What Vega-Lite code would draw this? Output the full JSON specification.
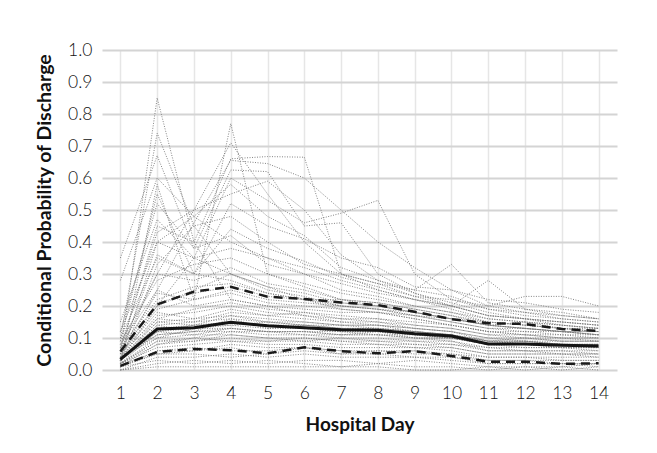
{
"$schema": "https://vega.github.io/schema/vega-lite/v6.json",
"width": 515, "height": 320,
"autosize": {"type": "none"},
"padding": {"left": 102, "top": 50, "right": 40, "bottom": 83},
"background": "white",
"config": {"view": {"stroke": null}, "font": "Lato"},
"datasets": {
"summary": [
{"s":"median","d":1,"p":0.033},{"s":"median","d":2,"p":0.128},{"s":"median","d":3,"p":0.132},{"s":"median","d":4,"p":0.149},{"s":"median","d":5,"p":0.138},{"s":"median","d":6,"p":0.132},{"s":"median","d":7,"p":0.126},{"s":"median","d":8,"p":0.124},{"s":"median","d":9,"p":0.113},{"s":"median","d":10,"p":0.106},{"s":"median","d":11,"p":0.081},{"s":"median","d":12,"p":0.081},{"s":"median","d":13,"p":0.077},{"s":"median","d":14,"p":0.075},
{"s":"p90","d":1,"p":0.058},{"s":"p90","d":2,"p":0.205},{"s":"p90","d":3,"p":0.245},{"s":"p90","d":4,"p":0.26},{"s":"p90","d":5,"p":0.229},{"s":"p90","d":6,"p":0.222},{"s":"p90","d":7,"p":0.211},{"s":"p90","d":8,"p":0.203},{"s":"p90","d":9,"p":0.182},{"s":"p90","d":10,"p":0.159},{"s":"p90","d":11,"p":0.146},{"s":"p90","d":12,"p":0.144},{"s":"p90","d":13,"p":0.128},{"s":"p90","d":14,"p":0.122},
{"s":"p10","d":1,"p":0.013},{"s":"p10","d":2,"p":0.056},{"s":"p10","d":3,"p":0.066},{"s":"p10","d":4,"p":0.062},{"s":"p10","d":5,"p":0.052},{"s":"p10","d":6,"p":0.071},{"s":"p10","d":7,"p":0.059},{"s":"p10","d":8,"p":0.052},{"s":"p10","d":9,"p":0.059},{"s":"p10","d":10,"p":0.044},{"s":"p10","d":11,"p":0.026},{"s":"p10","d":12,"p":0.026},{"s":"p10","d":13,"p":0.019},{"s":"p10","d":14,"p":0.021}
],
"hosp": [
{"h":1,"d":1,"p":0.02},{"h":1,"d":2,"p":0.05},{"h":1,"d":3,"p":0.06},{"h":1,"d":4,"p":0.07},{"h":1,"d":5,"p":0.05},{"h":1,"d":6,"p":0.07},{"h":1,"d":7,"p":0.06},{"h":1,"d":8,"p":0.05},{"h":1,"d":9,"p":0.06},{"h":1,"d":10,"p":0.04},{"h":1,"d":11,"p":0.03},{"h":1,"d":12,"p":0.03},{"h":1,"d":13,"p":0.02},{"h":1,"d":14,"p":0.02},
{"h":2,"d":1,"p":0.03},{"h":2,"d":2,"p":0.13},{"h":2,"d":3,"p":0.13},{"h":2,"d":4,"p":0.15},{"h":2,"d":5,"p":0.14},{"h":2,"d":6,"p":0.13},{"h":2,"d":7,"p":0.12},{"h":2,"d":8,"p":0.12},{"h":2,"d":9,"p":0.11},{"h":2,"d":10,"p":0.10},{"h":2,"d":11,"p":0.08},{"h":2,"d":12,"p":0.08},{"h":2,"d":13,"p":0.08},{"h":2,"d":14,"p":0.07},
{"h":3,"d":1,"p":0.05},{"h":3,"d":2,"p":0.21},{"h":3,"d":3,"p":0.24},{"h":3,"d":4,"p":0.26},{"h":3,"d":5,"p":0.23},{"h":3,"d":6,"p":0.22},{"h":3,"d":7,"p":0.21},{"h":3,"d":8,"p":0.20},{"h":3,"d":9,"p":0.18},{"h":3,"d":10,"p":0.16},{"h":3,"d":11,"p":0.15},{"h":3,"d":12,"p":0.14},{"h":3,"d":13,"p":0.13},{"h":3,"d":14,"p":0.12},
{"h":4,"d":1,"p":0.01},{"h":4,"d":2,"p":0.08},{"h":4,"d":3,"p":0.09},{"h":4,"d":4,"p":0.10},{"h":4,"d":5,"p":0.09},{"h":4,"d":6,"p":0.10},{"h":4,"d":7,"p":0.09},{"h":4,"d":8,"p":0.08},{"h":4,"d":9,"p":0.08},{"h":4,"d":10,"p":0.07},{"h":4,"d":11,"p":0.05},{"h":4,"d":12,"p":0.05},{"h":4,"d":13,"p":0.05},{"h":4,"d":14,"p":0.04},
{"h":5,"d":1,"p":0.04},{"h":5,"d":2,"p":0.17},{"h":5,"d":3,"p":0.18},{"h":5,"d":4,"p":0.20},{"h":5,"d":5,"p":0.18},{"h":5,"d":6,"p":0.17},{"h":5,"d":7,"p":0.16},{"h":5,"d":8,"p":0.16},{"h":5,"d":9,"p":0.14},{"h":5,"d":10,"p":0.13},{"h":5,"d":11,"p":0.11},{"h":5,"d":12,"p":0.11},{"h":5,"d":13,"p":0.10},{"h":5,"d":14,"p":0.10},
{"h":6,"d":1,"p":0.00},{"h":6,"d":2,"p":0.02},{"h":6,"d":3,"p":0.03},{"h":6,"d":4,"p":0.02},{"h":6,"d":5,"p":0.03},{"h":6,"d":6,"p":0.02},{"h":6,"d":7,"p":0.01},{"h":6,"d":8,"p":0.02},{"h":6,"d":9,"p":0.01},{"h":6,"d":10,"p":0.01},{"h":6,"d":11,"p":0.00},{"h":6,"d":12,"p":0.01},{"h":6,"d":13,"p":0.00},{"h":6,"d":14,"p":0.01},
{"h":7,"d":1,"p":0.06},{"h":7,"d":2,"p":0.30},{"h":7,"d":3,"p":0.28},{"h":7,"d":4,"p":0.32},{"h":7,"d":5,"p":0.27},{"h":7,"d":6,"p":0.25},{"h":7,"d":7,"p":0.22},{"h":7,"d":8,"p":0.21},{"h":7,"d":9,"p":0.19},{"h":7,"d":10,"p":0.17},{"h":7,"d":11,"p":0.15},{"h":7,"d":12,"p":0.14},{"h":7,"d":13,"p":0.13},{"h":7,"d":14,"p":0.12},
{"h":8,"d":1,"p":0.03},{"h":8,"d":2,"p":0.11},{"h":8,"d":3,"p":0.12},{"h":8,"d":4,"p":0.13},{"h":8,"d":5,"p":0.12},{"h":8,"d":6,"p":0.12},{"h":8,"d":7,"p":0.11},{"h":8,"d":8,"p":0.11},{"h":8,"d":9,"p":0.10},{"h":8,"d":10,"p":0.09},{"h":8,"d":11,"p":0.07},{"h":8,"d":12,"p":0.07},{"h":8,"d":13,"p":0.07},{"h":8,"d":14,"p":0.06},
{"h":9,"d":1,"p":0.02},{"h":9,"d":2,"p":0.09},{"h":9,"d":3,"p":0.10},{"h":9,"d":4,"p":0.12},{"h":9,"d":5,"p":0.11},{"h":9,"d":6,"p":0.11},{"h":9,"d":7,"p":0.10},{"h":9,"d":8,"p":0.10},{"h":9,"d":9,"p":0.09},{"h":9,"d":10,"p":0.09},{"h":9,"d":11,"p":0.06},{"h":9,"d":12,"p":0.06},{"h":9,"d":13,"p":0.06},{"h":9,"d":14,"p":0.06},
{"h":10,"d":1,"p":0.04},{"h":10,"d":2,"p":0.15},{"h":10,"d":3,"p":0.16},{"h":10,"d":4,"p":0.17},{"h":10,"d":5,"p":0.16},{"h":10,"d":6,"p":0.15},{"h":10,"d":7,"p":0.14},{"h":10,"d":8,"p":0.14},{"h":10,"d":9,"p":0.13},{"h":10,"d":10,"p":0.12},{"h":10,"d":11,"p":0.10},{"h":10,"d":12,"p":0.09},{"h":10,"d":13,"p":0.09},{"h":10,"d":14,"p":0.09},
{"h":11,"d":1,"p":0.08},{"h":11,"d":2,"p":0.25},{"h":11,"d":3,"p":0.20},{"h":11,"d":4,"p":0.22},{"h":11,"d":5,"p":0.20},{"h":11,"d":6,"p":0.19},{"h":11,"d":7,"p":0.18},{"h":11,"d":8,"p":0.18},{"h":11,"d":9,"p":0.16},{"h":11,"d":10,"p":0.14},{"h":11,"d":11,"p":0.12},{"h":11,"d":12,"p":0.12},{"h":11,"d":13,"p":0.11},{"h":11,"d":14,"p":0.11},
{"h":12,"d":1,"p":0.01},{"h":12,"d":2,"p":0.06},{"h":12,"d":3,"p":0.07},{"h":12,"d":4,"p":0.06},{"h":12,"d":5,"p":0.06},{"h":12,"d":6,"p":0.07},{"h":12,"d":7,"p":0.05},{"h":12,"d":8,"p":0.06},{"h":12,"d":9,"p":0.05},{"h":12,"d":10,"p":0.05},{"h":12,"d":11,"p":0.03},{"h":12,"d":12,"p":0.03},{"h":12,"d":13,"p":0.03},{"h":12,"d":14,"p":0.03},
{"h":13,"d":1,"p":0.03},{"h":13,"d":2,"p":0.14},{"h":13,"d":3,"p":0.12},{"h":13,"d":4,"p":0.16},{"h":13,"d":5,"p":0.13},{"h":13,"d":6,"p":0.14},{"h":13,"d":7,"p":0.13},{"h":13,"d":8,"p":0.13},{"h":13,"d":9,"p":0.12},{"h":13,"d":10,"p":0.11},{"h":13,"d":11,"p":0.09},{"h":13,"d":12,"p":0.09},{"h":13,"d":13,"p":0.08},{"h":13,"d":14,"p":0.08},
{"h":14,"d":1,"p":0.02},{"h":14,"d":2,"p":0.10},{"h":14,"d":3,"p":0.11},{"h":14,"d":4,"p":0.11},{"h":14,"d":5,"p":0.10},{"h":14,"d":6,"p":0.09},{"h":14,"d":7,"p":0.10},{"h":14,"d":8,"p":0.09},{"h":14,"d":9,"p":0.09},{"h":14,"d":10,"p":0.08},{"h":14,"d":11,"p":0.07},{"h":14,"d":12,"p":0.06},{"h":14,"d":13,"p":0.06},{"h":14,"d":14,"p":0.05},
{"h":15,"d":1,"p":0.05},{"h":15,"d":2,"p":0.19},{"h":15,"d":3,"p":0.22},{"h":15,"d":4,"p":0.24},{"h":15,"d":5,"p":0.21},{"h":15,"d":6,"p":0.20},{"h":15,"d":7,"p":0.19},{"h":15,"d":8,"p":0.18},{"h":15,"d":9,"p":0.17},{"h":15,"d":10,"p":0.15},{"h":15,"d":11,"p":0.13},{"h":15,"d":12,"p":0.13},{"h":15,"d":13,"p":0.12},{"h":15,"d":14,"p":0.11},
{"h":16,"d":1,"p":0.00},{"h":16,"d":2,"p":0.04},{"h":16,"d":3,"p":0.04},{"h":16,"d":4,"p":0.05},{"h":16,"d":5,"p":0.04},{"h":16,"d":6,"p":0.05},{"h":16,"d":7,"p":0.04},{"h":16,"d":8,"p":0.04},{"h":16,"d":9,"p":0.04},{"h":16,"d":10,"p":0.03},{"h":16,"d":11,"p":0.02},{"h":16,"d":12,"p":0.02},{"h":16,"d":13,"p":0.02},{"h":16,"d":14,"p":0.02},
{"h":17,"d":1,"p":0.04},{"h":17,"d":2,"p":0.12},{"h":17,"d":3,"p":0.14},{"h":17,"d":4,"p":0.14},{"h":17,"d":5,"p":0.15},{"h":17,"d":6,"p":0.14},{"h":17,"d":7,"p":0.13},{"h":17,"d":8,"p":0.12},{"h":17,"d":9,"p":0.12},{"h":17,"d":10,"p":0.11},{"h":17,"d":11,"p":0.08},{"h":17,"d":12,"p":0.09},{"h":17,"d":13,"p":0.08},{"h":17,"d":14,"p":0.08},
{"h":18,"d":1,"p":0.10},{"h":18,"d":2,"p":0.35},{"h":18,"d":3,"p":0.30},{"h":18,"d":4,"p":0.28},{"h":18,"d":5,"p":0.24},{"h":18,"d":6,"p":0.22},{"h":18,"d":7,"p":0.20},{"h":18,"d":8,"p":0.19},{"h":18,"d":9,"p":0.17},{"h":18,"d":10,"p":0.16},{"h":18,"d":11,"p":0.14},{"h":18,"d":12,"p":0.13},{"h":18,"d":13,"p":0.12},{"h":18,"d":14,"p":0.11},
{"h":19,"d":1,"p":0.02},{"h":19,"d":2,"p":0.07},{"h":19,"d":3,"p":0.08},{"h":19,"d":4,"p":0.09},{"h":19,"d":5,"p":0.08},{"h":19,"d":6,"p":0.08},{"h":19,"d":7,"p":0.07},{"h":19,"d":8,"p":0.07},{"h":19,"d":9,"p":0.07},{"h":19,"d":10,"p":0.06},{"h":19,"d":11,"p":0.04},{"h":19,"d":12,"p":0.04},{"h":19,"d":13,"p":0.04},{"h":19,"d":14,"p":0.04},
{"h":20,"d":1,"p":0.03},{"h":20,"d":2,"p":0.16},{"h":20,"d":3,"p":0.15},{"h":20,"d":4,"p":0.18},{"h":20,"d":5,"p":0.17},{"h":20,"d":6,"p":0.16},{"h":20,"d":7,"p":0.15},{"h":20,"d":8,"p":0.15},{"h":20,"d":9,"p":0.13},{"h":20,"d":10,"p":0.12},{"h":20,"d":11,"p":0.10},{"h":20,"d":12,"p":0.10},{"h":20,"d":13,"p":0.09},{"h":20,"d":14,"p":0.09},
{"h":21,"d":1,"p":0.06},{"h":21,"d":2,"p":0.20},{"h":21,"d":3,"p":0.25},{"h":21,"d":4,"p":0.30},{"h":21,"d":5,"p":0.25},{"h":21,"d":6,"p":0.23},{"h":21,"d":7,"p":0.20},{"h":21,"d":8,"p":0.19},{"h":21,"d":9,"p":0.17},{"h":21,"d":10,"p":0.15},{"h":21,"d":11,"p":0.13},{"h":21,"d":12,"p":0.12},{"h":21,"d":13,"p":0.12},{"h":21,"d":14,"p":0.11},
{"h":22,"d":1,"p":0.01},{"h":22,"d":2,"p":0.05},{"h":22,"d":3,"p":0.05},{"h":22,"d":4,"p":0.04},{"h":22,"d":5,"p":0.05},{"h":22,"d":6,"p":0.06},{"h":22,"d":7,"p":0.05},{"h":22,"d":8,"p":0.05},{"h":22,"d":9,"p":0.04},{"h":22,"d":10,"p":0.04},{"h":22,"d":11,"p":0.02},{"h":22,"d":12,"p":0.02},{"h":22,"d":13,"p":0.02},{"h":22,"d":14,"p":0.01},
{"h":23,"d":1,"p":0.03},{"h":23,"d":2,"p":0.12},{"h":23,"d":3,"p":0.13},{"h":23,"d":4,"p":0.14},{"h":23,"d":5,"p":0.13},{"h":23,"d":6,"p":0.13},{"h":23,"d":7,"p":0.12},{"h":23,"d":8,"p":0.12},{"h":23,"d":9,"p":0.11},{"h":23,"d":10,"p":0.10},{"h":23,"d":11,"p":0.08},{"h":23,"d":12,"p":0.08},{"h":23,"d":13,"p":0.08},{"h":23,"d":14,"p":0.07},
{"h":24,"d":1,"p":0.05},{"h":24,"d":2,"p":0.18},{"h":24,"d":3,"p":0.16},{"h":24,"d":4,"p":0.19},{"h":24,"d":5,"p":0.17},{"h":24,"d":6,"p":0.18},{"h":24,"d":7,"p":0.16},{"h":24,"d":8,"p":0.15},{"h":24,"d":9,"p":0.14},{"h":24,"d":10,"p":0.13},{"h":24,"d":11,"p":0.11},{"h":24,"d":12,"p":0.10},{"h":24,"d":13,"p":0.10},{"h":24,"d":14,"p":0.09},
{"h":25,"d":1,"p":0.02},{"h":25,"d":2,"p":0.09},{"h":25,"d":3,"p":0.09},{"h":25,"d":4,"p":0.11},{"h":25,"d":5,"p":0.10},{"h":25,"d":6,"p":0.10},{"h":25,"d":7,"p":0.09},{"h":25,"d":8,"p":0.09},{"h":25,"d":9,"p":0.08},{"h":25,"d":10,"p":0.08},{"h":25,"d":11,"p":0.06},{"h":25,"d":12,"p":0.06},{"h":25,"d":13,"p":0.05},{"h":25,"d":14,"p":0.05},
{"h":26,"d":1,"p":0.12},{"h":26,"d":2,"p":0.40},{"h":26,"d":3,"p":0.35},{"h":26,"d":4,"p":0.30},{"h":26,"d":5,"p":0.26},{"h":26,"d":6,"p":0.24},{"h":26,"d":7,"p":0.21},{"h":26,"d":8,"p":0.20},{"h":26,"d":9,"p":0.18},{"h":26,"d":10,"p":0.16},{"h":26,"d":11,"p":0.14},{"h":26,"d":12,"p":0.13},{"h":26,"d":13,"p":0.12},{"h":26,"d":14,"p":0.12},
{"h":27,"d":1,"p":0.03},{"h":27,"d":2,"p":0.14},{"h":27,"d":3,"p":0.15},{"h":27,"d":4,"p":0.16},{"h":27,"d":5,"p":0.15},{"h":27,"d":6,"p":0.14},{"h":27,"d":7,"p":0.14},{"h":27,"d":8,"p":0.13},{"h":27,"d":9,"p":0.12},{"h":27,"d":10,"p":0.11},{"h":27,"d":11,"p":0.09},{"h":27,"d":12,"p":0.09},{"h":27,"d":13,"p":0.08},{"h":27,"d":14,"p":0.08},
{"h":28,"d":1,"p":0.01},{"h":28,"d":2,"p":0.03},{"h":28,"d":3,"p":0.02},{"h":28,"d":4,"p":0.03},{"h":28,"d":5,"p":0.02},{"h":28,"d":6,"p":0.03},{"h":28,"d":7,"p":0.03},{"h":28,"d":8,"p":0.02},{"h":28,"d":9,"p":0.03},{"h":28,"d":10,"p":0.02},{"h":28,"d":11,"p":0.01},{"h":28,"d":12,"p":0.01},{"h":28,"d":13,"p":0.01},{"h":28,"d":14,"p":0.02},
{"h":29,"d":1,"p":0.04},{"h":29,"d":2,"p":0.11},{"h":29,"d":3,"p":0.12},{"h":29,"d":4,"p":0.12},{"h":29,"d":5,"p":0.12},{"h":29,"d":6,"p":0.11},{"h":29,"d":7,"p":0.11},{"h":29,"d":8,"p":0.11},{"h":29,"d":9,"p":0.10},{"h":29,"d":10,"p":0.10},{"h":29,"d":11,"p":0.08},{"h":29,"d":12,"p":0.08},{"h":29,"d":13,"p":0.07},{"h":29,"d":14,"p":0.07},
{"h":30,"d":1,"p":0.07},{"h":30,"d":2,"p":0.22},{"h":30,"d":3,"p":0.26},{"h":30,"d":4,"p":0.27},{"h":30,"d":5,"p":0.24},{"h":30,"d":6,"p":0.22},{"h":30,"d":7,"p":0.22},{"h":30,"d":8,"p":0.21},{"h":30,"d":9,"p":0.19},{"h":30,"d":10,"p":0.17},{"h":30,"d":11,"p":0.14},{"h":30,"d":12,"p":0.15},{"h":30,"d":13,"p":0.13},{"h":30,"d":14,"p":0.13},
{"h":31,"d":1,"p":0.02},{"h":31,"d":2,"p":0.08},{"h":31,"d":3,"p":0.10},{"h":31,"d":4,"p":0.09},{"h":31,"d":5,"p":0.09},{"h":31,"d":6,"p":0.09},{"h":31,"d":7,"p":0.08},{"h":31,"d":8,"p":0.08},{"h":31,"d":9,"p":0.07},{"h":31,"d":10,"p":0.07},{"h":31,"d":11,"p":0.05},{"h":31,"d":12,"p":0.05},{"h":31,"d":13,"p":0.05},{"h":31,"d":14,"p":0.05},
{"h":32,"d":1,"p":0.03},{"h":32,"d":2,"p":0.13},{"h":32,"d":3,"p":0.14},{"h":32,"d":4,"p":0.15},{"h":32,"d":5,"p":0.14},{"h":32,"d":6,"p":0.14},{"h":32,"d":7,"p":0.13},{"h":32,"d":8,"p":0.13},{"h":32,"d":9,"p":0.12},{"h":32,"d":10,"p":0.11},{"h":32,"d":11,"p":0.09},{"h":32,"d":12,"p":0.08},{"h":32,"d":13,"p":0.08},{"h":32,"d":14,"p":0.08},
{"h":33,"d":1,"p":0.05},{"h":33,"d":2,"p":0.16},{"h":33,"d":3,"p":0.19},{"h":33,"d":4,"p":0.21},{"h":33,"d":5,"p":0.19},{"h":33,"d":6,"p":0.18},{"h":33,"d":7,"p":0.17},{"h":33,"d":8,"p":0.16},{"h":33,"d":9,"p":0.15},{"h":33,"d":10,"p":0.14},{"h":33,"d":11,"p":0.12},{"h":33,"d":12,"p":0.11},{"h":33,"d":13,"p":0.11},{"h":33,"d":14,"p":0.10},
{"h":34,"d":1,"p":0.01},{"h":34,"d":2,"p":0.06},{"h":34,"d":3,"p":0.06},{"h":34,"d":4,"p":0.08},{"h":34,"d":5,"p":0.07},{"h":34,"d":6,"p":0.07},{"h":34,"d":7,"p":0.06},{"h":34,"d":8,"p":0.06},{"h":34,"d":9,"p":0.06},{"h":34,"d":10,"p":0.05},{"h":34,"d":11,"p":0.04},{"h":34,"d":12,"p":0.04},{"h":34,"d":13,"p":0.03},{"h":34,"d":14,"p":0.03},
{"h":35,"d":1,"p":0.04},{"h":35,"d":2,"p":0.10},{"h":35,"d":3,"p":0.13},{"h":35,"d":4,"p":0.13},{"h":35,"d":5,"p":0.12},{"h":35,"d":6,"p":0.12},{"h":35,"d":7,"p":0.12},{"h":35,"d":8,"p":0.11},{"h":35,"d":9,"p":0.11},{"h":35,"d":10,"p":0.10},{"h":35,"d":11,"p":0.08},{"h":35,"d":12,"p":0.08},{"h":35,"d":13,"p":0.07},{"h":35,"d":14,"p":0.07},
{"h":36,"d":1,"p":0.09},{"h":36,"d":2,"p":0.28},{"h":36,"d":3,"p":0.33},{"h":36,"d":4,"p":0.35},{"h":36,"d":5,"p":0.30},{"h":36,"d":6,"p":0.27},{"h":36,"d":7,"p":0.24},{"h":36,"d":8,"p":0.22},{"h":36,"d":9,"p":0.20},{"h":36,"d":10,"p":0.18},{"h":36,"d":11,"p":0.16},{"h":36,"d":12,"p":0.15},{"h":36,"d":13,"p":0.14},{"h":36,"d":14,"p":0.13},
{"h":37,"d":1,"p":0.02},{"h":37,"d":2,"p":0.12},{"h":37,"d":3,"p":0.11},{"h":37,"d":4,"p":0.13},{"h":37,"d":5,"p":0.12},{"h":37,"d":6,"p":0.12},{"h":37,"d":7,"p":0.11},{"h":37,"d":8,"p":0.12},{"h":37,"d":9,"p":0.10},{"h":37,"d":10,"p":0.10},{"h":37,"d":11,"p":0.08},{"h":37,"d":12,"p":0.07},{"h":37,"d":13,"p":0.07},{"h":37,"d":14,"p":0.07},
{"h":38,"d":1,"p":0.03},{"h":38,"d":2,"p":0.15},{"h":38,"d":3,"p":0.14},{"h":38,"d":4,"p":0.17},{"h":38,"d":5,"p":0.15},{"h":38,"d":6,"p":0.15},{"h":38,"d":7,"p":0.14},{"h":38,"d":8,"p":0.14},{"h":38,"d":9,"p":0.13},{"h":38,"d":10,"p":0.12},{"h":38,"d":11,"p":0.09},{"h":38,"d":12,"p":0.10},{"h":38,"d":13,"p":0.09},{"h":38,"d":14,"p":0.09},
{"h":39,"d":1,"p":0.00},{"h":39,"d":2,"p":0.01},{"h":39,"d":3,"p":0.01},{"h":39,"d":4,"p":0.01},{"h":39,"d":5,"p":0.01},{"h":39,"d":6,"p":0.01},{"h":39,"d":7,"p":0.01},{"h":39,"d":8,"p":0.01},{"h":39,"d":9,"p":0.00},{"h":39,"d":10,"p":0.00},{"h":39,"d":11,"p":0.01},{"h":39,"d":12,"p":0.00},{"h":39,"d":13,"p":0.01},{"h":39,"d":14,"p":0.00},
{"h":40,"d":1,"p":0.06},{"h":40,"d":2,"p":0.24},{"h":40,"d":3,"p":0.22},{"h":40,"d":4,"p":0.25},{"h":40,"d":5,"p":0.22},{"h":40,"d":6,"p":0.21},{"h":40,"d":7,"p":0.20},{"h":40,"d":8,"p":0.19},{"h":40,"d":9,"p":0.18},{"h":40,"d":10,"p":0.16},{"h":40,"d":11,"p":0.14},{"h":40,"d":12,"p":0.13},{"h":40,"d":13,"p":0.12},{"h":40,"d":14,"p":0.12},
{"h":41,"d":1,"p":0.05},{"h":41,"d":2,"p":0.85},{"h":41,"d":3,"p":0.40},{"h":41,"d":4,"p":0.22},{"h":41,"d":5,"p":0.20},{"h":41,"d":6,"p":0.17},{"h":41,"d":7,"p":0.15},{"h":41,"d":8,"p":0.14},{"h":41,"d":9,"p":0.12},{"h":41,"d":10,"p":0.11},{"h":41,"d":11,"p":0.09},{"h":41,"d":12,"p":0.09},{"h":41,"d":13,"p":0.08},{"h":41,"d":14,"p":0.08},
{"h":42,"d":1,"p":0.10},{"h":42,"d":2,"p":0.74},{"h":42,"d":3,"p":0.45},{"h":42,"d":4,"p":0.30},{"h":42,"d":5,"p":0.26},{"h":42,"d":6,"p":0.22},{"h":42,"d":7,"p":0.19},{"h":42,"d":8,"p":0.18},{"h":42,"d":9,"p":0.16},{"h":42,"d":10,"p":0.14},{"h":42,"d":11,"p":0.12},{"h":42,"d":12,"p":0.11},{"h":42,"d":13,"p":0.10},{"h":42,"d":14,"p":0.10},
{"h":43,"d":1,"p":0.35},{"h":43,"d":2,"p":0.67},{"h":43,"d":3,"p":0.38},{"h":43,"d":4,"p":0.42},{"h":43,"d":5,"p":0.33},{"h":43,"d":6,"p":0.30},{"h":43,"d":7,"p":0.25},{"h":43,"d":8,"p":0.23},{"h":43,"d":9,"p":0.20},{"h":43,"d":10,"p":0.18},{"h":43,"d":11,"p":0.15},{"h":43,"d":12,"p":0.14},{"h":43,"d":13,"p":0.13},{"h":43,"d":14,"p":0.12},
{"h":44,"d":1,"p":0.28},{"h":44,"d":2,"p":0.60},{"h":44,"d":3,"p":0.48},{"h":44,"d":4,"p":0.40},{"h":44,"d":5,"p":0.35},{"h":44,"d":6,"p":0.32},{"h":44,"d":7,"p":0.28},{"h":44,"d":8,"p":0.25},{"h":44,"d":9,"p":0.22},{"h":44,"d":10,"p":0.20},{"h":44,"d":11,"p":0.17},{"h":44,"d":12,"p":0.16},{"h":44,"d":13,"p":0.15},{"h":44,"d":14,"p":0.14},
{"h":45,"d":1,"p":0.02},{"h":45,"d":2,"p":0.58},{"h":45,"d":3,"p":0.22},{"h":45,"d":4,"p":0.77},{"h":45,"d":5,"p":0.30},{"h":45,"d":6,"p":0.26},{"h":45,"d":7,"p":0.22},{"h":45,"d":8,"p":0.20},{"h":45,"d":9,"p":0.18},{"h":45,"d":10,"p":0.16},{"h":45,"d":11,"p":0.14},{"h":45,"d":12,"p":0.13},{"h":45,"d":13,"p":0.12},{"h":45,"d":14,"p":0.11},
{"h":46,"d":1,"p":0.08},{"h":46,"d":2,"p":0.30},{"h":46,"d":3,"p":0.50},{"h":46,"d":4,"p":0.71},{"h":46,"d":5,"p":0.55},{"h":46,"d":6,"p":0.40},{"h":46,"d":7,"p":0.30},{"h":46,"d":8,"p":0.25},{"h":46,"d":9,"p":0.22},{"h":46,"d":10,"p":0.19},{"h":46,"d":11,"p":0.16},{"h":46,"d":12,"p":0.15},{"h":46,"d":13,"p":0.14},{"h":46,"d":14,"p":0.13},
{"h":47,"d":1,"p":0.06},{"h":47,"d":2,"p":0.45},{"h":47,"d":3,"p":0.40},{"h":47,"d":4,"p":0.66},{"h":47,"d":5,"p":0.667},{"h":47,"d":6,"p":0.665},{"h":47,"d":7,"p":0.30},{"h":47,"d":8,"p":0.27},{"h":47,"d":9,"p":0.23},{"h":47,"d":10,"p":0.20},{"h":47,"d":11,"p":0.17},{"h":47,"d":12,"p":0.16},{"h":47,"d":13,"p":0.14},{"h":47,"d":14,"p":0.13},
{"h":48,"d":1,"p":0.04},{"h":48,"d":2,"p":0.25},{"h":48,"d":3,"p":0.46},{"h":48,"d":4,"p":0.655},{"h":48,"d":5,"p":0.645},{"h":48,"d":6,"p":0.60},{"h":48,"d":7,"p":0.50},{"h":48,"d":8,"p":0.40},{"h":48,"d":9,"p":0.32},{"h":48,"d":10,"p":0.25},{"h":48,"d":11,"p":0.20},{"h":48,"d":12,"p":0.18},{"h":48,"d":13,"p":0.16},{"h":48,"d":14,"p":0.15},
{"h":49,"d":1,"p":0.12},{"h":49,"d":2,"p":0.52},{"h":49,"d":3,"p":0.38},{"h":49,"d":4,"p":0.625},{"h":49,"d":5,"p":0.62},{"h":49,"d":6,"p":0.45},{"h":49,"d":7,"p":0.46},{"h":49,"d":8,"p":0.30},{"h":49,"d":9,"p":0.24},{"h":49,"d":10,"p":0.21},{"h":49,"d":11,"p":0.18},{"h":49,"d":12,"p":0.16},{"h":49,"d":13,"p":0.15},{"h":49,"d":14,"p":0.14},
{"h":50,"d":1,"p":0.03},{"h":50,"d":2,"p":0.20},{"h":50,"d":3,"p":0.35},{"h":50,"d":4,"p":0.60},{"h":50,"d":5,"p":0.53},{"h":50,"d":6,"p":0.46},{"h":50,"d":7,"p":0.49},{"h":50,"d":8,"p":0.53},{"h":50,"d":9,"p":0.30},{"h":50,"d":10,"p":0.22},{"h":50,"d":11,"p":0.19},{"h":50,"d":12,"p":0.17},{"h":50,"d":13,"p":0.16},{"h":50,"d":14,"p":0.15},
{"h":51,"d":1,"p":0.07},{"h":51,"d":2,"p":0.43},{"h":51,"d":3,"p":0.50},{"h":51,"d":4,"p":0.55},{"h":51,"d":5,"p":0.59},{"h":51,"d":6,"p":0.50},{"h":51,"d":7,"p":0.36},{"h":51,"d":8,"p":0.28},{"h":51,"d":9,"p":0.24},{"h":51,"d":10,"p":0.20},{"h":51,"d":11,"p":0.17},{"h":51,"d":12,"p":0.16},{"h":51,"d":13,"p":0.15},{"h":51,"d":14,"p":0.14},
{"h":52,"d":1,"p":0.02},{"h":52,"d":2,"p":0.33},{"h":52,"d":3,"p":0.45},{"h":52,"d":4,"p":0.48},{"h":52,"d":5,"p":0.40},{"h":52,"d":6,"p":0.33},{"h":52,"d":7,"p":0.30},{"h":52,"d":8,"p":0.27},{"h":52,"d":9,"p":0.25},{"h":52,"d":10,"p":0.33},{"h":52,"d":11,"p":0.21},{"h":52,"d":12,"p":0.19},{"h":52,"d":13,"p":0.18},{"h":52,"d":14,"p":0.16},
{"h":53,"d":1,"p":0.15},{"h":53,"d":2,"p":0.47},{"h":53,"d":3,"p":0.35},{"h":53,"d":4,"p":0.38},{"h":53,"d":5,"p":0.35},{"h":53,"d":6,"p":0.30},{"h":53,"d":7,"p":0.27},{"h":53,"d":8,"p":0.24},{"h":53,"d":9,"p":0.22},{"h":53,"d":10,"p":0.20},{"h":53,"d":11,"p":0.28},{"h":53,"d":12,"p":0.19},{"h":53,"d":13,"p":0.17},{"h":53,"d":14,"p":0.16},
{"h":54,"d":1,"p":0.05},{"h":54,"d":2,"p":0.36},{"h":54,"d":3,"p":0.30},{"h":54,"d":4,"p":0.44},{"h":54,"d":5,"p":0.38},{"h":54,"d":6,"p":0.34},{"h":54,"d":7,"p":0.29},{"h":54,"d":8,"p":0.26},{"h":54,"d":9,"p":0.23},{"h":54,"d":10,"p":0.22},{"h":54,"d":11,"p":0.20},{"h":54,"d":12,"p":0.23},{"h":54,"d":13,"p":0.23},{"h":54,"d":14,"p":0.20},
{"h":55,"d":1,"p":0.09},{"h":55,"d":2,"p":0.55},{"h":55,"d":3,"p":0.30},{"h":55,"d":4,"p":0.52},{"h":55,"d":5,"p":0.45},{"h":55,"d":6,"p":0.41},{"h":55,"d":7,"p":0.35},{"h":55,"d":8,"p":0.32},{"h":55,"d":9,"p":0.26},{"h":55,"d":10,"p":0.25},{"h":55,"d":11,"p":0.22},{"h":55,"d":12,"p":0.21},{"h":55,"d":13,"p":0.19},{"h":55,"d":14,"p":0.18},
{"h":56,"d":1,"p":0.03},{"h":56,"d":2,"p":0.40},{"h":56,"d":3,"p":0.48},{"h":56,"d":4,"p":0.58},{"h":56,"d":5,"p":0.48},{"h":56,"d":6,"p":0.42},{"h":56,"d":7,"p":0.32},{"h":56,"d":8,"p":0.28},{"h":56,"d":9,"p":0.25},{"h":56,"d":10,"p":0.23},{"h":56,"d":11,"p":0.19},{"h":56,"d":12,"p":0.18},{"h":56,"d":13,"p":0.17},{"h":56,"d":14,"p":0.16}
]
},
"encoding": {
"x": {"field": "d", "type": "quantitative",
  "scale": {"domain": [0.5, 14.5], "nice": false, "zero": false},
  "axis": {"values": [1,2,3,4,5,6,7,8,9,10,11,12,13,14], "format": "d", "title": "Hospital Day",
    "grid": true, "gridColor": "#e6e6e6", "gridWidth": 1.5, "domain": false, "ticks": false,
    "labelFont": "Lato", "labelFontWeight": 300, "labelFontSize": 17.5, "labelColor": "#111", "labelPadding": 14,
    "titleFont": "Lato", "titleFontWeight": "bold", "titleFontSize": 19, "titleColor": "#111", "titlePadding": 14}},
"y": {"field": "p", "type": "quantitative",
  "scale": {"domain": [0, 1], "nice": false},
  "axis": {"values": [0,0.1,0.2,0.3,0.4,0.5,0.6,0.7,0.8,0.9,1.0], "format": ".1f", "title": "Conditional Probability of Discharge",
    "grid": true, "gridColor": "#d4d4d4", "gridWidth": 2, "domain": false, "ticks": false,
    "labelFont": "Lato", "labelFontWeight": 300, "labelFontSize": 17.5, "labelColor": "#111", "labelPadding": 10,
    "titleFont": "Lato", "titleFontWeight": "bold", "titleFontSize": 19.5, "titleColor": "#111", "titlePadding": 13}}
},
"layer": [
{"data": {"name": "hosp"}, "mark": {"type": "line", "color": "#777777", "strokeWidth": 1, "strokeDash": [1, 1.5], "opacity": 0.9},
 "encoding": {"detail": {"field": "h", "type": "nominal"}}},
{"data": {"name": "summary"}, "transform": [{"filter": "datum.s !== 'median'"}],
 "mark": {"type": "line", "color": "#1a1a1a", "strokeWidth": 2.5, "strokeDash": [9, 6]},
 "encoding": {"detail": {"field": "s", "type": "nominal"}}},
{"data": {"name": "summary"}, "transform": [{"filter": "datum.s === 'median'"}],
 "mark": {"type": "line", "color": "#141414", "strokeWidth": 3},
 "encoding": {}}
]
}
